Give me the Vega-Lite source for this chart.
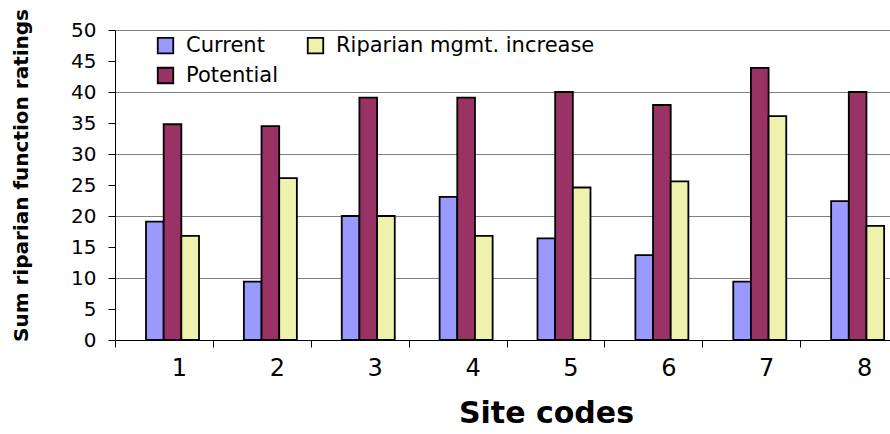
{
  "$schema": "https://vega.github.io/schema/vega-lite/v6.json",
  "autosize": {"type": "none"},
  "padding": {"left": 115, "top": 30, "right": 0, "bottom": 94},
  "width": 775,
  "height": 310,
  "background": "white",
  "config": {
    "font": "DejaVu Sans",
    "view": {"stroke": null}
  },
  "data": {
    "values": [
      {"site": "1", "series": "Current", "value": 19.1},
      {"site": "1", "series": "Potential", "value": 34.8},
      {"site": "1", "series": "Riparian mgmt. increase", "value": 16.8},
      {"site": "2", "series": "Current", "value": 9.4},
      {"site": "2", "series": "Potential", "value": 34.5},
      {"site": "2", "series": "Riparian mgmt. increase", "value": 26.1},
      {"site": "3", "series": "Current", "value": 20.0},
      {"site": "3", "series": "Potential", "value": 39.1},
      {"site": "3", "series": "Riparian mgmt. increase", "value": 20.0},
      {"site": "4", "series": "Current", "value": 23.1},
      {"site": "4", "series": "Potential", "value": 39.1},
      {"site": "4", "series": "Riparian mgmt. increase", "value": 16.8},
      {"site": "5", "series": "Current", "value": 16.4},
      {"site": "5", "series": "Potential", "value": 40.0},
      {"site": "5", "series": "Riparian mgmt. increase", "value": 24.6},
      {"site": "6", "series": "Current", "value": 13.7},
      {"site": "6", "series": "Potential", "value": 37.9},
      {"site": "6", "series": "Riparian mgmt. increase", "value": 25.6},
      {"site": "7", "series": "Current", "value": 9.4},
      {"site": "7", "series": "Potential", "value": 43.9},
      {"site": "7", "series": "Riparian mgmt. increase", "value": 36.1},
      {"site": "8", "series": "Current", "value": 22.4},
      {"site": "8", "series": "Potential", "value": 40.0},
      {"site": "8", "series": "Riparian mgmt. increase", "value": 18.4}
    ]
  },
  "mark": {"type": "bar", "stroke": "black", "strokeWidth": 1.8},
  "encoding": {
    "x": {
      "field": "site",
      "type": "nominal",
      "scale": {"range": [0, 783], "paddingInner": 0, "paddingOuter": 0},
      "axis": {
        "title": "Site codes",
        "titleFontSize": 30,
        "titleFontWeight": "bold",
        "titleColor": "black",
        "titleX": 431,
        "titleY": 58,
        "titleBaseline": "top",
        "labelAngle": 0,
        "labelFontSize": 24,
        "labelColor": "black",
        "labelOffset": 15,
        "labelPadding": 9,
        "tickBand": "extent",
        "tickSize": 7,
        "tickColor": "black",
        "domainColor": "black",
        "grid": false
      }
    },
    "xOffset": {
      "field": "series",
      "type": "nominal",
      "sort": ["Current", "Potential", "Riparian mgmt. increase"],
      "scale": {"range": [31, 84], "paddingInner": 0, "paddingOuter": 0}
    },
    "y": {
      "field": "value",
      "type": "quantitative",
      "scale": {"domain": [0, 50], "nice": false},
      "axis": {
        "title": "Sum riparian function ratings",
        "titleFontSize": 20,
        "titleFontWeight": "bold",
        "titleColor": "black",
        "titleX": -84,
        "titleY": 145,
        "values": [0, 5, 10, 15, 20, 25, 30, 35, 40, 45, 50],
        "labelFontSize": 20,
        "labelColor": "black",
        "labelPadding": 12,
        "tickSize": 7,
        "tickColor": "black",
        "domainColor": "black",
        "grid": true,
        "gridColor": "#808080",
        "gridOpacity": {"condition": {"test": "datum.value % 10 === 0 && datum.value > 0", "value": 1}, "value": 0}
      }
    },
    "color": {
      "field": "series",
      "type": "nominal",
      "scale": {
        "domain": ["Current", "Potential", "Riparian mgmt. increase"],
        "range": ["#9999FF", "#993366", "#EEF2AC"]
      },
      "legend": {
        "title": null,
        "orient": "none",
        "legendX": 40,
        "legendY": 5,
        "columns": 2,
        "symbolType": "square",
        "symbolSize": 240,
        "symbolStrokeColor": "black",
        "symbolStrokeWidth": 1.8,
        "symbolOpacity": 1,
        "labelFontSize": 21,
        "labelColor": "black",
        "labelOffset": 10,
        "labelLimit": 400,
        "rowPadding": 7,
        "columnPadding": 26
      }
    }
  }
}
